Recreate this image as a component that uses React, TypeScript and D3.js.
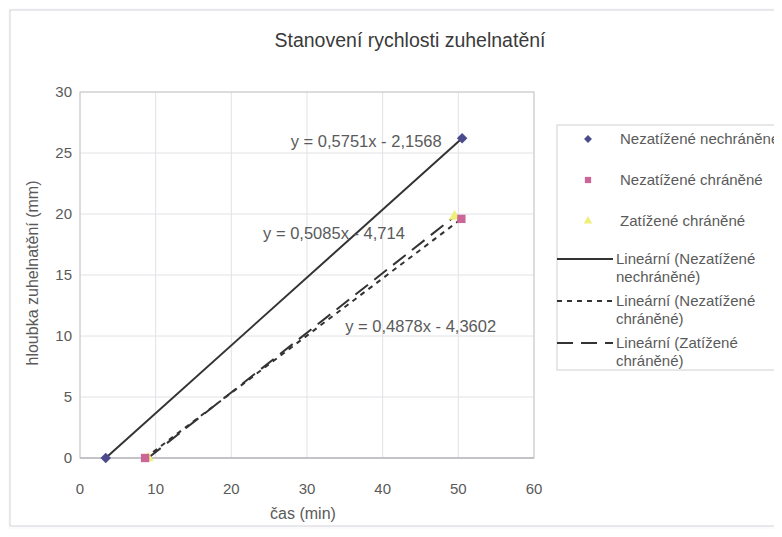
import * as d3 from "d3";

const width = 782,
  height = 537,
  marginLeft = 80,
  marginRight = 248,
  marginTop = 92,
  marginBottom = 79;

// measured points (čas min, hloubka mm)
const nechranene: [number, number][] = [
  [3.4, 0],
  [50.5, 26.2],
];
const chranene: [number, number][] = [
  [8.6, 0],
  [50.4, 19.6],
];
const zatizene: [number, number][] = [
  [9.0, 0],
  [49.5, 19.8],
];

const xTicks = [0, 10, 20, 30, 40, 50, 60];
const yTicks = [0, 5, 10, 15, 20, 25, 30];

const equations = [
  { text: "y = 0,5751x - 2,1568", at: [47.8, 26.0], anchor: "end" },
  { text: "y = 0,5085x - 4,714", at: [24.2, 18.4], anchor: "start" },
  { text: "y = 0,4878x - 4,3602", at: [55.0, 10.8], anchor: "end" },
];

const legendMarkers = [
  { name: "Nezatížené nechráněné", color: "#4a4a8c", shape: "diamond" },
  { name: "Nezatížené chráněné", color: "#cc6699", shape: "square" },
  { name: "Zatížené chráněné", color: "#eef07a", shape: "triangle" },
];
const legendLines = [
  { lines: ["Lineární (Nezatížené", "nechráněné)"], dash: "none" },
  { lines: ["Lineární (Nezatížené", "chráněné)"], dash: "5,5" },
  { lines: ["Lineární (Zatížené", "chráněné)"], dash: "16,8" },
];

// least squares fit
function fit(pts: [number, number][]) {
  const mx = d3.mean(pts, (d) => d[0])!;
  const my = d3.mean(pts, (d) => d[1])!;
  const k =
    d3.sum(pts, (d) => (d[0] - mx) * (d[1] - my)) /
    d3.sum(pts, (d) => (d[0] - mx) ** 2);
  return (x: number) => my + k * (x - mx);
}

export default function App() {
  const x = d3.scaleLinear([0, 60], [marginLeft, width - marginRight]);
  const y = d3.scaleLinear([0, 30], [height - marginBottom, marginTop]);
  const line = d3
    .line<[number, number]>()
    .x((d) => x(d[0]))
    .y((d) => y(d[1]));

  const trend = (pts: [number, number][]) => {
    const f = fit(pts);
    const ext = d3.extent(pts, (d) => d[0]) as [number, number];
    return line(ext.map((v) => [v, f(v)] as [number, number]));
  };

  const diamond = d3.symbol(d3.symbolDiamond2, 70)();
  const square = d3.symbol(d3.symbolSquare, 70)();
  const tri = d3.symbol(d3.symbolTriangle, 55)();
  const shapes: Record<string, string | null> = { diamond, square, triangle: tri };

  const gray = "#5a5a5a";
  const font = "Liberation Sans, Arial, sans-serif";

  return (
    <svg width={width} height={height} style={{ display: "block", margin: -8, fontFamily: font }}>
      <rect width={width} height={height} fill="#fbfbfd" />
      <rect x={10} y={10} width={769} height={516} fill="#fff" stroke="#d4d4d8" />
      <text x={410} y={47} textAnchor="middle" fontSize={19.5} fill="#3a3a3a">
        Stanovení rychlosti zuhelnatění
      </text>

      {/* grid */}
      {yTicks.map((t) => (
        <line key={"gy" + t} x1={x(0)} x2={x(60)} y1={y(t)} y2={y(t)} stroke="#e2e2e6" />
      ))}
      {xTicks.map((t) => (
        <line key={"gx" + t} x1={x(t)} x2={x(t)} y1={y(0)} y2={y(30)} stroke="#e2e2e6" />
      ))}
      <rect x={x(0)} y={y(30)} width={x(60) - x(0)} height={y(0) - y(30)} fill="none" stroke="#c8c8cc" />
      <line x1={x(0)} x2={x(60)} y1={y(0)} y2={y(0)} stroke="#aaaab0" />

      {/* ticks */}
      {yTicks.map((t) => (
        <text key={"ty" + t} x={x(0) - 8} y={y(t)} dy="0.35em" textAnchor="end" fontSize={15} fill={gray}>
          {t}
        </text>
      ))}
      {xTicks.map((t) => (
        <text key={"tx" + t} x={x(t)} y={y(0) + 36} textAnchor="middle" fontSize={15} fill={gray}>
          {t}
        </text>
      ))}
      <text x={303} y={519} textAnchor="middle" fontSize={16} fill={gray}>
        čas (min)
      </text>
      <text transform={`translate(38,${(y(0) + y(30)) / 2 - 2}) rotate(-90)`} textAnchor="middle" fontSize={16} fill={gray}>
        hloubka zuhelnatění (mm)
      </text>

      {/* trend lines */}
      <path d={trend(nechranene)!} fill="none" stroke="#333" strokeWidth={2} />
      <path d={trend(chranene)!} fill="none" stroke="#333" strokeWidth={2} strokeDasharray="5,5" />
      <path d={trend(zatizene)!} fill="none" stroke="#333" strokeWidth={2} strokeDasharray="16,8" />

      {/* points */}
      {zatizene.map((d, i) => (
        <path key={"z" + i} d={tri!} transform={`translate(${x(d[0])},${y(d[1])})`} fill="#eef07a" />
      ))}
      {chranene.map((d, i) => (
        <path key={"c" + i} d={square!} transform={`translate(${x(d[0])},${y(d[1])})`} fill="#cc6699" />
      ))}
      {nechranene.map((d, i) => (
        <path key={"n" + i} d={diamond!} transform={`translate(${x(d[0])},${y(d[1])})`} fill="#4a4a8c" />
      ))}

      {equations.map((e) => (
        <text key={e.text} x={x(e.at[0])} y={y(e.at[1])} dy="0.35em" textAnchor={e.anchor} fontSize={16.5} fill={gray}>
          {e.text}
        </text>
      ))}

      {/* legend */}
      <rect x={557} y={125} width={240} height={245} fill="#fff" stroke="#d0d0d4" />
      {legendMarkers.map((m, i) => (
        <g key={m.name} transform={`translate(588,${139 + i * 41})`}>
          <path d={shapes[m.shape]!} fill={m.color} transform="scale(0.75)" />
          <text x={32} dy="0.35em" fontSize={15} fill={gray}>
            {m.name}
          </text>
        </g>
      ))}
      {legendLines.map((l, i) => (
        <g key={i} transform={`translate(557,${259 + i * 42})`}>
          <line x1={0} x2={56} stroke="#333" strokeWidth={2} strokeDasharray={l.dash} />
          {l.lines.map((s, j) => (
            <text key={j} x={59} y={j * 18} dy="0.35em" fontSize={15} fill={gray}>
              {s}
            </text>
          ))}
        </g>
      ))}
    </svg>
  );
}
